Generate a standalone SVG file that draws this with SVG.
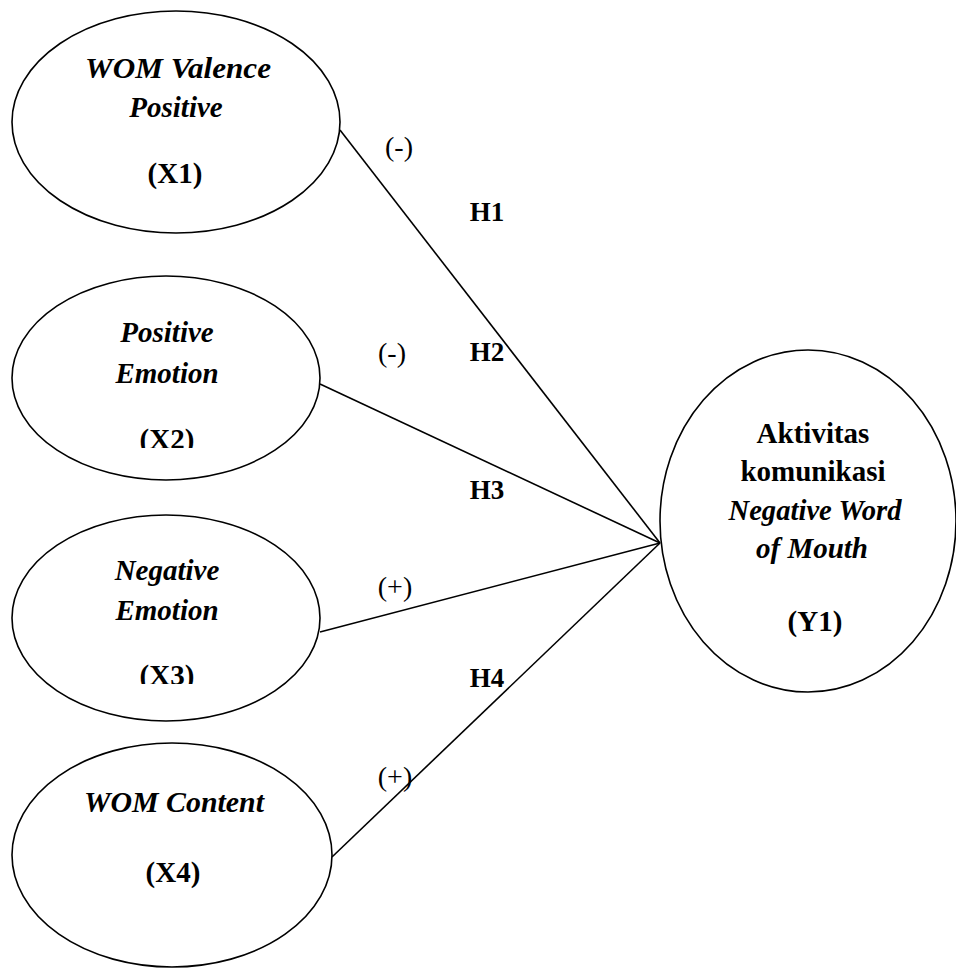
<svg xmlns="http://www.w3.org/2000/svg" width="956" height="969" viewBox="0 0 956 969">
<style>
.node{fill:#fff;stroke:#000;stroke-width:1.6}
.edge{stroke:#000;stroke-width:1.6;fill:none}
text{font-family:"Liberation Serif","Times New Roman",serif;font-size:29px;fill:#000;text-anchor:middle}
.bi{font-weight:bold;font-style:italic}
.b{font-weight:bold}
.h{font-weight:bold;font-size:27px}
.r{font-weight:normal;font-size:28px}
</style>
<defs>
<clipPath id="clipX2"><rect x="0" y="420" width="400" height="28"/></clipPath>
<clipPath id="clipX3"><rect x="0" y="655" width="400" height="29"/></clipPath>
</defs>
<rect width="956" height="969" fill="#fff"/>
<g id="connectors">
<line class="edge" x1="340" y1="130" x2="660" y2="543"/>
<line class="edge" x1="320" y1="384" x2="660" y2="543"/>
<line class="edge" x1="320" y1="632" x2="660" y2="543"/>
<line class="edge" x1="332" y1="857" x2="660" y2="543"/>
</g>
<g id="X1" font-family="Liberation Serif, serif">
<ellipse class="node" cx="176" cy="122" rx="164" ry="111"/>
<text class="bi" x="178" y="78" textLength="186" lengthAdjust="spacingAndGlyphs">WOM Valence</text>
<text class="bi" x="176" y="117">Positive</text>
<text class="b" x="175" y="183">(X1)</text>
</g>
<g id="X2" font-family="Liberation Serif, serif">
<ellipse class="node" cx="166" cy="378" rx="154" ry="102"/>
<text class="bi" x="167" y="342">Positive</text>
<text class="bi" x="167" y="383">Emotion</text>
<text class="b" x="167" y="449" clip-path="url(#clipX2)">(X2)</text>
</g>
<g id="X3" font-family="Liberation Serif, serif">
<ellipse class="node" cx="166" cy="618" rx="154" ry="103"/>
<text class="bi" x="167" y="580">Negative</text>
<text class="bi" x="167" y="620">Emotion</text>
<text class="b" x="167" y="685" clip-path="url(#clipX3)">(X3)</text>
</g>
<g id="X4" font-family="Liberation Serif, serif">
<ellipse class="node" cx="172" cy="855" rx="160" ry="112"/>
<text class="bi" x="174" y="812" textLength="180" lengthAdjust="spacingAndGlyphs">WOM Content</text>
<text class="b" x="173" y="882">(X4)</text>
</g>
<g id="Y1" font-family="Liberation Serif, serif">
<ellipse class="node" cx="808" cy="521" rx="148" ry="171"/>
<text class="b" x="813" y="443">Aktivitas</text>
<text class="b" x="813" y="481">komunikasi</text>
<text class="bi" x="815" y="520" textLength="173" lengthAdjust="spacingAndGlyphs">Negative Word</text>
<text class="bi" x="812" y="558">of Mouth</text>
<text class="b" x="815" y="631">(Y1)</text>
</g>
<g id="labels" font-family="Liberation Serif, serif">
<text class="r" x="399" y="156">(-)</text>
<text class="h" x="487" y="221">H1</text>
<text class="r" x="392" y="362">(-)</text>
<text class="h" x="487" y="361">H2</text>
<text class="h" x="487" y="499">H3</text>
<text class="r" x="395" y="596">(+)</text>
<text class="h" x="487" y="687">H4</text>
<text class="r" x="395" y="786">(+)</text>
</g>
</svg>
